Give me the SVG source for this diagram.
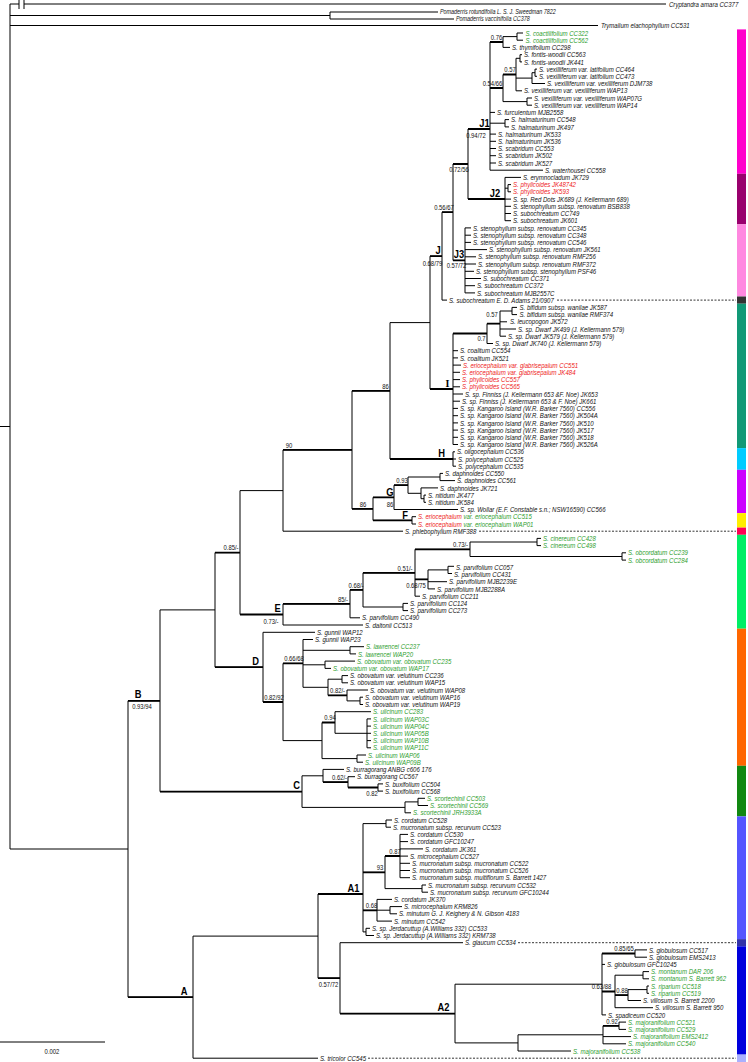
<svg xmlns="http://www.w3.org/2000/svg" width="748" height="1062" viewBox="0 0 748 1062">
<style>
.bg{fill:#fff}
.br{fill:none;stroke:#000;stroke-width:1}
.k{fill:none;stroke:#000;stroke-width:1.8}
.d{fill:none;stroke:#000;stroke-width:0.8;stroke-dasharray:2 1.5}
.t{font-family:"Liberation Sans",Arial,sans-serif;font-style:italic;font-size:7.4px;fill:#111}
.o{font-size:6.6px}
.g{fill:#2e9e2e}
.r{fill:#ee2020}
.s{font-family:"Liberation Sans",Arial,sans-serif;font-size:7.2px;fill:#111;text-anchor:middle}
.c{font-family:"Liberation Sans",Arial,sans-serif;font-size:11px;font-weight:bold;fill:#000;text-anchor:middle}
.cs{font-family:"Liberation Serif","Times New Roman",serif}
</style>
<rect class="bg" x="0" y="0" width="748" height="1062"/>
<g id="connectors">
<path class="br" d="M10 4V849 M0 426.5H10 M10 4H19 M24 4H666 M19 0V9 M24 0V9 M10 15.5H330 M330 12V19 M330 12H438 M330 19H454 M10 25.5H598 M10 849H128
M128 700.8V997.2 M128 700.8H160 M128 997.2H193
M160 609.9V791.6 M160 609.9H215 M160 791.6H302
M215 552.6V667.2 M215 552.6H240 M215 667.2H263
M240 490.6V614.5 M240 490.6H283 M240 614.5H283
M283 449.9V531.2 M283 449.9H352 M283 531.2H403
M352 390.8V508.9 M352 390.8H390 M352 508.9H373
M390 322.6V459 M390 322.6H430 M390 459H453
M430 256.2V389 M430 256.2H442 M430 389H453
M442 212.2V300.1 M442 212.2H453 M442 300.1H447
M453 164V260.4 M453 164H468 M453 260.4H465
M468 129V199 M468 129H490 M468 199H505
M490 42V170.2 M490 42H503 M490 88H503 M490 112.4H495 M490 123.2H505 M490 134.1H496 M490 141.3H496 M490 148.5H496 M490 155.7H496 M490 163H496 M490 170.2H543
M503 36.6V47.4 M503 36.6H517 M503 47.4H510
M517 33V40.2 M517 33H523 M517 40.2H523
M503 74.5V101.6 M503 74.5H516 M503 101.6H527
M516 58.3V90.8 M516 58.3H520 M516 78.1H532 M516 90.8H522
M520 54.7V61.9 M520 54.7H522 M520 61.9H522
M532 72.7V83.5 M532 72.7H535 M532 83.5H545
M535 69.1V76.3 M535 69.1H537 M535 76.3H537
M527 98V105.2 M527 98H532 M527 105.2H532
M505 119.6V126.9 M505 119.6H509 M505 126.9H509
M505 177.4V220.7 M505 177.4H521 M505 188.2H508 M505 199.1H511 M505 206.3H511 M505 213.5H511 M505 220.7H511
M508 184.6V191.8 M508 184.6H511 M508 191.8H511
M465 227.9V292.9 M465 227.9H471 M465 235.2H471 M465 242.4H471 M465 249.6H487 M465 256.8H476 M465 264H476 M465 271.3H474 M465 278.5H481 M465 285.7H475 M465 292.9H475
M453 333.5V444.5 M453 333.5H487 M453 350.7H458 M453 357.9H458 M453 365.1H461 M453 372.3H460 M453 379.6H460 M453 386.8H460 M453 394H463 M453 401.2H460 M453 408.4H458 M453 415.7H458 M453 422.9H458 M453 430.1H458 M453 437.3H458 M453 444.5H458
M487 323.6V343.5 M487 323.6H500 M487 343.5H493
M500 311V336.2 M500 311H512 M500 321.8H507 M500 329H516 M500 336.2H506
M512 307.4V314.6 M512 307.4H517 M512 314.6H517
M453 451.8V466.2 M453 451.8H455 M453 459H456 M453 466.2H456
M373 497.4V520.4 M373 497.4H394 M373 520.4H412
M394 485.2V509.5 M394 485.2H408 M394 509.5H458
M408 477V493.3 M408 477H440 M408 493.3H421
M440 473.4V480.6 M440 473.4H443 M440 480.6H455
M421 487.9V498.7 M421 487.9H438 M421 498.7H424
M424 495.1V502.3 M424 495.1H426 M424 502.3H426
M412 516.7V524 M412 516.7H416 M412 524H416
M283 603.9V625 M283 603.9H350 M283 625H363
M350 589.9V617.8 M350 589.9H363 M350 617.8H360
M363 572.8V607 M363 572.8H415 M363 607H403
M415 549.3V596.2 M415 549.3H470 M415 579.4H428 M415 596.2H420
M470 542V556.5 M470 542H537 M470 556.5H622
M537 538.4V545.6 M537 538.4H541 M537 545.6H541
M622 552.8V560.1 M622 552.8H626 M622 560.1H626
M428 569.9V588.9 M428 569.9H448 M428 581.7H447 M428 588.9H435
M448 566.3V573.5 M448 566.3H454 M448 573.5H452
M403 603.4V610.6 M403 603.4H408 M403 610.6H408
M263 632.3V702 M263 632.3H315 M263 702H283
M283 663.4V740.6 M283 663.4H303 M283 740.6H322
M303 639.5V687.3 M303 639.5H313 M303 650.3H350 M303 664.8H325 M303 687.3H328
M350 646.7V653.9 M350 646.7H364 M350 653.9H356
M325 661.1V668.4 M325 661.1H355 M325 668.4H331
M328 679.2V695.4 M328 679.2H342 M328 695.4H347
M342 675.6V682.8 M342 675.6H348 M342 682.8H348
M347 690V700.9 M347 690H368 M347 700.9H360
M360 697.2V704.5 M360 697.2H363 M360 704.5H363
M322 722.5V758.6 M322 722.5H335 M322 758.6H357
M335 711.7V733.3 M335 711.7H371 M335 733.3H367
M367 718.9V747.8 M367 718.9H371 M367 726.1H371 M367 733.3H371 M367 740.6H371 M367 747.8H371
M357 755V762.2 M357 755H366 M357 762.2H363
M302 775.8V807.4 M302 775.8H323 M302 807.4H405
M323 769.4V782.1 M323 769.4H344 M323 782.1H348
M348 776.7V787.5 M348 776.7H355 M348 787.5H378
M378 783.9V791.1 M378 783.9H383 M378 791.1H383
M405 801.9V812.8 M405 801.9H418 M405 812.8H411
M418 798.3V805.5 M418 798.3H425 M418 805.5H428
M193 936.1V1058.2 M193 936.1H318 M193 1058.2H318
M318 894V978.2 M318 894H363 M318 978.2H340
M363 823.6V931.9 M363 823.6H386 M363 872.3H385 M363 910.3H377 M363 931.9H366
M386 820V827.2 M386 820H392 M386 827.2H391
M385 856V888.6 M385 856H400 M385 888.6H422
M400 834.4V877.7 M400 834.4H408 M400 841.6H408 M400 848.9H423 M400 856.1H408 M400 863.3H410 M400 870.5H410 M400 877.7H410
M422 885V892.2 M422 885H426 M422 892.2H428
M377 899.4V921.1 M377 899.4H392 M377 910.2H390 M377 921.1H392
M390 906.6V913.8 M390 906.6H402 M390 913.8H397
M366 928.3V935.5 M366 928.3H370 M366 935.5H374
M340 942.7V1013.6 M340 942.7H463 M340 1013.6H455
M455 984.2V1042.9 M455 984.2H602 M455 1042.9H518
M602 953.5V1014.9 M602 953.5H635 M602 964.4H605 M602 991.5H615 M602 1014.9H606
M635 949.9V957.2 M635 949.9H647 M635 957.2H647
M615 975.2V1007.7 M615 975.2H643 M615 995.1H628 M615 1007.7H653
M643 971.6V978.8 M643 971.6H649 M643 978.8H649
M628 989.6V1000.5 M628 989.6H647 M628 1000.5H641
M647 986V993.3 M647 986H649 M647 993.3H649
M518 1034.8V1051 M518 1034.8H603 M518 1051H571
M603 1025.8V1043.8 M603 1025.8H619 M603 1036.6H631 M603 1043.8H626
M619 1022.1V1029.4 M619 1022.1H626 M619 1029.4H626"/>
<path class="k" d="M468 129H490 M490 42H503 M490 88H503 M503 74.5H516 M453 164H468 M442 212.2H453 M430 256.2H442 M468 199H505 M453 260.4H465 M430 389H453 M453 333.5H487 M487 323.6H500 M390 459H453 M352 390.8H390 M283 449.9H352 M352 508.9H373 M373 497.4H394 M394 485.2H408 M373 520.4H412 M215 552.6H240 M240 614.5H283 M283 603.9H350 M350 589.9H363 M363 572.8H415 M415 549.3H470 M415 579.4H428 M215 667.2H263 M263 702H283 M283 663.4H303 M328 695.4H347 M322 722.5H335 M160 791.6H302 M323 782.1H348 M348 787.5H378 M128 700.8H160 M128 997.2H193 M318 894H363 M363 872.3H385 M385 856H400 M363 910.3H377 M318 978.2H340 M340 1013.6H455 M602 991.5H615 M615 995.1H628 M602 953.5H635 M603 1025.8H619"/>
<path class="d" d="M557 300.1H736 M479 531.2H736 M518 942.7H736 M368 1058.2H736"/>
</g>
<g id="outgroups">
<text class="t" transform="translate(669 6.6) scale(.82 1)">Cryptandra amara CC377</text>
<text class="t o" transform="translate(440 14.3) scale(.82 1)">Pomaderris rotundifolia L. S. J. Sweedman 7822</text>
<text class="t o" transform="translate(456 21.3) scale(.82 1)">Pomaderris vaccinifolia CC378</text>
<text class="t" transform="translate(601 28) scale(.82 1)">Trymalium elachophyllum CC531</text>
</g>
<g id="clade-J1">
<text class="t g" transform="translate(525.5 35.6) scale(.82 1)">S. coactilifolium CC322</text>
<text class="t g" transform="translate(525.5 42.8) scale(.82 1)">S. coactilifolium CC562</text>
<text class="t" transform="translate(512 50) scale(.82 1)">S. thymifolium CC298</text>
<text class="t" transform="translate(524 57.3) scale(.82 1)">S. fontis-woodii CC563</text>
<text class="t" transform="translate(524 64.5) scale(.82 1)">S. fontis-woodii JK441</text>
<text class="t" transform="translate(539 71.7) scale(.82 1)">S. vexilliferum var. latifolium CC464</text>
<text class="t" transform="translate(539 78.9) scale(.82 1)">S. vexilliferum var. latifolium CC473</text>
<text class="t" transform="translate(547 86.1) scale(.82 1)">S. vexilliferum var. vexilliferum DJM738</text>
<text class="t" transform="translate(524 93.4) scale(.82 1)">S. vexilliferum var. vexilliferum WAP13</text>
<text class="t" transform="translate(534 100.6) scale(.82 1)">S. vexilliferum var. vexilliferum WAP07G</text>
<text class="t" transform="translate(534 107.8) scale(.82 1)">S. vexilliferum var. vexilliferum WAP14</text>
<text class="t" transform="translate(497 115) scale(.82 1)">S. furculentum MJB2558</text>
<text class="t" transform="translate(511 122.2) scale(.82 1)">S. halmaturinum CC548</text>
<text class="t" transform="translate(511 129.5) scale(.82 1)">S. halmaturinum JK497</text>
<text class="t" transform="translate(498 136.7) scale(.82 1)">S. halmaturinum JK533</text>
<text class="t" transform="translate(498 143.9) scale(.82 1)">S. halmaturinum JK536</text>
<text class="t" transform="translate(498 151.1) scale(.82 1)">S. scabridum CC553</text>
<text class="t" transform="translate(498 158.3) scale(.82 1)">S. scabridum JK502</text>
<text class="t" transform="translate(498 165.6) scale(.82 1)">S. scabridum JK527</text>
<text class="t" transform="translate(545 172.8) scale(.82 1)">S. waterhousei CC558</text>
</g>
<g id="clade-J2">
<text class="t" transform="translate(523 180) scale(.82 1)">S. erymnocladum JK729</text>
<text class="t r" transform="translate(513 187.2) scale(.82 1)">S. phylicoides JK48742</text>
<text class="t r" transform="translate(513 194.4) scale(.82 1)">S. phylicoides JK593</text>
<text class="t" transform="translate(513 201.7) scale(.82 1)">S. sp. Red Dots JK689 (J. Kellermann 689)</text>
<text class="t" transform="translate(513 208.9) scale(.82 1)">S. stenophyllum subsp. renovatum BSB838</text>
<text class="t" transform="translate(513 216.1) scale(.82 1)">S. subochreatum CC749</text>
<text class="t" transform="translate(513 223.3) scale(.82 1)">S. subochreatum JK601</text>
</g>
<g id="clade-J3">
<text class="t" transform="translate(473 230.5) scale(.82 1)">S. stenophyllum subsp. renovatum CC345</text>
<text class="t" transform="translate(473 237.8) scale(.82 1)">S. stenophyllum subsp. renovatum CC348</text>
<text class="t" transform="translate(473 245) scale(.82 1)">S. stenophyllum subsp. renovatum CC546</text>
<text class="t" transform="translate(489 252.2) scale(.82 1)">S. stenophyllum subsp. renovatum JK561</text>
<text class="t" transform="translate(478 259.4) scale(.82 1)">S. stenophyllum subsp. renovatum RMF256</text>
<text class="t" transform="translate(478 266.6) scale(.82 1)">S. stenophyllum subsp. renovatum RMF372</text>
<text class="t" transform="translate(476 273.9) scale(.82 1)">S. stenophyllum subsp. stenophyllum PSF46</text>
<text class="t" transform="translate(483 281.1) scale(.82 1)">S. subochreatum CC371</text>
<text class="t" transform="translate(477 288.3) scale(.82 1)">S. subochreatum CC372</text>
<text class="t" transform="translate(477 295.5) scale(.82 1)">S. subochreatum MJB2557C</text>
<text class="t" transform="translate(449 302.7) scale(.82 1)">S. subochreatum E. D. Adams 21/0907</text>
</g>
<g id="clade-I">
<text class="t" transform="translate(519.5 310) scale(.82 1)">S. bifidum subsp. wanilae JK587</text>
<text class="t" transform="translate(519.5 317.2) scale(.82 1)">S. bifidum subsp. wanilae RMF374</text>
<text class="t" transform="translate(510 324.4) scale(.82 1)">S. leucopogon JK572</text>
<text class="t" transform="translate(518 331.6) scale(.82 1)">S. sp. Dwarf JK499 (J. Kellermann 579)</text>
<text class="t" transform="translate(508 338.8) scale(.82 1)">S. sp. Dwarf JK579 (J. Kellermann 579)</text>
<text class="t" transform="translate(495 346.1) scale(.82 1)">S. sp. Dwarf JK740 (J. Kellermann 579)</text>
<text class="t" transform="translate(460 353.3) scale(.82 1)">S. coalitum CC554</text>
<text class="t" transform="translate(460 360.5) scale(.82 1)">S. coalitum JK521</text>
<text class="t r" transform="translate(463 367.7) scale(.82 1)">S. eriocephalum var. glabrisepalum CC551</text>
<text class="t r" transform="translate(462 374.9) scale(.82 1)">S. eriocephalum var. glabrisepalum JK484</text>
<text class="t r" transform="translate(462 382.2) scale(.82 1)">S. phylicoides CC557</text>
<text class="t r" transform="translate(462 389.4) scale(.82 1)">S. phylicoides CC565</text>
<text class="t" transform="translate(465 396.6) scale(.82 1)">S. sp. Finniss (J. Kellermann 653 &amp;F. Noe) JK653</text>
<text class="t" transform="translate(462 403.8) scale(.82 1)">S. sp. Finniss (J. Kellermann 653 &amp; F. Noe) JK661</text>
<text class="t" transform="translate(460 411) scale(.82 1)">S. sp. Kangaroo Island (W.R. Barker 7560) CC556</text>
<text class="t" transform="translate(460 418.3) scale(.82 1)">S. sp. Kangaroo Island (W.R. Barker 7560) JK504A</text>
<text class="t" transform="translate(460 425.5) scale(.82 1)">S. sp. Kangaroo Island (W.R. Barker 7560) JK510</text>
<text class="t" transform="translate(460 432.7) scale(.82 1)">S. sp. Kangaroo Island (W.R. Barker 7560) JK517</text>
<text class="t" transform="translate(460 439.9) scale(.82 1)">S. sp. Kangaroo Island (W.R. Barker 7560) JK518</text>
<text class="t" transform="translate(460 447.1) scale(.82 1)">S. sp. Kangaroo Island (W.R. Barker 7560) JK526A</text>
</g>
<g id="clade-H">
<text class="t" transform="translate(457 454.4) scale(.82 1)">S. oligocephalum CC536</text>
<text class="t" transform="translate(458 461.6) scale(.82 1)">S. polycephalum CC525</text>
<text class="t" transform="translate(458 468.8) scale(.82 1)">S. polycephalum CC535</text>
</g>
<g id="clade-G">
<text class="t" transform="translate(445 476) scale(.82 1)">S. daphnoides CC550</text>
<text class="t" transform="translate(457 483.2) scale(.82 1)">S. daphnoides CC561</text>
<text class="t" transform="translate(440 490.5) scale(.82 1)">S. daphnoides JK721</text>
<text class="t" transform="translate(428 497.7) scale(.82 1)">S. nitidum JK477</text>
<text class="t" transform="translate(428 504.9) scale(.82 1)">S. nitidum JK584</text>
<text class="t" transform="translate(460 512.1) scale(.82 1)">S. sp. Wollar (E.F. Constable s.n.; NSW16590) CC566</text>
</g>
<g id="clade-F">
<text class="t" transform="translate(418 519.3) scale(.82 1)"><tspan class="r">S. eriocephalum</tspan><tspan class="g"> var. eriocephalum CC515</tspan></text>
<text class="t" transform="translate(418 526.6) scale(.82 1)"><tspan class="r">S. eriocephalum</tspan><tspan class="g"> var. eriocephalum WAP01</tspan></text>
<text class="t" transform="translate(405 533.8) scale(.82 1)">S. phlebophyllum RMF388</text>
</g>
<g id="clade-E">
<text class="t g" transform="translate(543 541) scale(.82 1)">S. cinereum CC428</text>
<text class="t g" transform="translate(543 548.2) scale(.82 1)">S. cinereum CC498</text>
<text class="t g" transform="translate(628 555.4) scale(.82 1)">S. obcordatum CC239</text>
<text class="t g" transform="translate(628 562.7) scale(.82 1)">S. obcordatum CC284</text>
<text class="t" transform="translate(456 569.9) scale(.82 1)">S. parvifolium CC057</text>
<text class="t" transform="translate(454 577.1) scale(.82 1)">S. parvifolium CC431</text>
<text class="t" transform="translate(449 584.3) scale(.82 1)">S. parvifolium MJB2239E</text>
<text class="t" transform="translate(437 591.5) scale(.82 1)">S. parvifolium MJB2288A</text>
<text class="t" transform="translate(422 598.8) scale(.82 1)">S. parvifolium CC211</text>
<text class="t" transform="translate(410 606) scale(.82 1)">S. parvifolium CC124</text>
<text class="t" transform="translate(410 613.2) scale(.82 1)">S. parvifolium CC273</text>
<text class="t" transform="translate(362 620.4) scale(.82 1)">S. parvifolium CC490</text>
<text class="t" transform="translate(365 627.6) scale(.82 1)">S. daltonii CC513</text>
</g>
<g id="clade-D">
<text class="t" transform="translate(317 634.9) scale(.82 1)">S. gunnii WAP12</text>
<text class="t" transform="translate(315 642.1) scale(.82 1)">S. gunnii WAP23</text>
<text class="t g" transform="translate(366 649.3) scale(.82 1)">S. lawrencei CC237</text>
<text class="t g" transform="translate(358 656.5) scale(.82 1)">S. lawrencei WAP20</text>
<text class="t g" transform="translate(357 663.7) scale(.82 1)">S. obovatum var. obovatum CC235</text>
<text class="t g" transform="translate(333 671) scale(.82 1)">S. obovatum var. obovatum WAP17</text>
<text class="t" transform="translate(350 678.2) scale(.82 1)">S. obovatum var. velutinum CC236</text>
<text class="t" transform="translate(350 685.4) scale(.82 1)">S. obovatum var. velutinum WAP15</text>
<text class="t" transform="translate(370 692.6) scale(.82 1)">S. obovatum var. velutinum WAP08</text>
<text class="t" transform="translate(365 699.8) scale(.82 1)">S. obovatum var. velutinum WAP16</text>
<text class="t" transform="translate(365 707.1) scale(.82 1)">S. obovatum var. velutinum WAP19</text>
<text class="t g" transform="translate(373 714.3) scale(.82 1)">S. ulicinum CC283</text>
<text class="t g" transform="translate(373 721.5) scale(.82 1)">S. ulicinum WAP03C</text>
<text class="t g" transform="translate(373 728.7) scale(.82 1)">S. ulicinum WAP04C</text>
<text class="t g" transform="translate(373 735.9) scale(.82 1)">S. ulicinum WAP05B</text>
<text class="t g" transform="translate(373 743.2) scale(.82 1)">S. ulicinum WAP10B</text>
<text class="t g" transform="translate(373 750.4) scale(.82 1)">S. ulicinum WAP11C</text>
<text class="t g" transform="translate(368 757.6) scale(.82 1)">S. ulicinum WAP06</text>
<text class="t g" transform="translate(365 764.8) scale(.82 1)">S. ulicinum WAP09B</text>
</g>
<g id="clade-C">
<text class="t" transform="translate(346 772) scale(.82 1)">S. burragorang ANBG c606 176</text>
<text class="t" transform="translate(357 779.3) scale(.82 1)">S. burragorang CC567</text>
<text class="t" transform="translate(385 786.5) scale(.82 1)">S. buxifolium CC504</text>
<text class="t" transform="translate(385 793.7) scale(.82 1)">S. buxifolium CC568</text>
<text class="t g" transform="translate(427 800.9) scale(.82 1)">S. scortechinii CC503</text>
<text class="t g" transform="translate(430 808.1) scale(.82 1)">S. scortechinii CC569</text>
<text class="t g" transform="translate(413 815.4) scale(.82 1)">S. scortechinii JRH3933A</text>
</g>
<g id="clade-A1">
<text class="t" transform="translate(394 822.6) scale(.82 1)">S. cordatum CC528</text>
<text class="t" transform="translate(393 829.8) scale(.82 1)">S. mucronatum subsp. recurvum CC523</text>
<text class="t" transform="translate(410 837) scale(.82 1)">S. cordatum CC530</text>
<text class="t" transform="translate(410 844.2) scale(.82 1)">S. cordatum GFC10247</text>
<text class="t" transform="translate(425 851.5) scale(.82 1)">S. cordatum JK361</text>
<text class="t" transform="translate(410 858.7) scale(.82 1)">S. microcephalum CC527</text>
<text class="t" transform="translate(412 865.9) scale(.82 1)">S. mucronatum subsp. mucronatum CC522</text>
<text class="t" transform="translate(412 873.1) scale(.82 1)">S. mucronatum subsp. mucronatum CC526</text>
<text class="t" transform="translate(412 880.3) scale(.82 1)">S. mucronatum subsp. multiflorum S. Barrett 1427</text>
<text class="t" transform="translate(428 887.6) scale(.82 1)">S. mucronatum subsp. recurvum CC532</text>
<text class="t" transform="translate(430 894.8) scale(.82 1)">S. mucronatum subsp. recurvum GFC10244</text>
<text class="t" transform="translate(394 902) scale(.82 1)">S. cordatum JK370</text>
<text class="t" transform="translate(404 909.2) scale(.82 1)">S. microcephalum KRM826</text>
<text class="t" transform="translate(399 916.4) scale(.82 1)">S. minutum G. J. Keighery &amp; N. Gibson 4183</text>
<text class="t" transform="translate(394 923.7) scale(.82 1)">S. minutum CC542</text>
<text class="t" transform="translate(372 930.9) scale(.82 1)">S. sp. Jerdacuttup (A.Williams 332) CC533</text>
<text class="t" transform="translate(376 938.1) scale(.82 1)">S. sp. Jerdacuttup (A.Williams 332) KRM738</text>
<text class="t" transform="translate(465 945.3) scale(.82 1)">S. glaucum CC534</text>
</g>
<g id="clade-A2">
<text class="t" transform="translate(649 952.5) scale(.82 1)">S. globulosum CC517</text>
<text class="t" transform="translate(649 959.8) scale(.82 1)">S. globulosum EMS2413</text>
<text class="t" transform="translate(607 967) scale(.82 1)">S. globulosum GFC10245</text>
<text class="t g" transform="translate(651 974.2) scale(.82 1)">S. montanum DAR 206</text>
<text class="t g" transform="translate(651 981.4) scale(.82 1)">S. montanum S. Barrett 962</text>
<text class="t g" transform="translate(651 988.6) scale(.82 1)">S. riparium CC518</text>
<text class="t g" transform="translate(651 995.9) scale(.82 1)">S. riparium CC519</text>
<text class="t" transform="translate(643 1003.1) scale(.82 1)">S. villosum S. Barrett 2200</text>
<text class="t" transform="translate(655 1010.3) scale(.82 1)">S. villosum S. Barrett 950</text>
<text class="t" transform="translate(608 1017.5) scale(.82 1)">S. spadiceum CC520</text>
<text class="t g" transform="translate(628 1024.7) scale(.82 1)">S. majoranifolium CC521</text>
<text class="t g" transform="translate(628 1032) scale(.82 1)">S. majoranifolium CC529</text>
<text class="t g" transform="translate(633 1039.2) scale(.82 1)">S. majoranifolium EMS2412</text>
<text class="t g" transform="translate(628 1046.4) scale(.82 1)">S. majoranifolium CC540</text>
<text class="t g" transform="translate(573 1053.6) scale(.82 1)">S. majoranifolium CC538</text>
<text class="t" transform="translate(320 1060.8) scale(.82 1)">S. tricolor CC545</text>
</g>
<g id="clade-labels">
<text class="c" transform="translate(484.5 127) scale(.85 1)">J1</text>
<text class="c" transform="translate(495 197) scale(.85 1)">J2</text>
<text class="c" transform="translate(459 258) scale(.85 1)">J3</text>
<text class="c" transform="translate(438 254) scale(.85 1)">J</text>
<text class="c cs" transform="translate(447.5 387) scale(.9 1)">I</text>
<text class="c" transform="translate(441.5 457) scale(.85 1)">H</text>
<text class="c" transform="translate(390 496) scale(.85 1)">G</text>
<text class="c" transform="translate(405 519) scale(.85 1)">F</text>
<text class="c" transform="translate(277.5 612) scale(.85 1)">E</text>
<text class="c" transform="translate(255.5 665) scale(.85 1)">D</text>
<text class="c" transform="translate(296.5 789) scale(.85 1)">C</text>
<text class="c" transform="translate(138 698) scale(.85 1)">B</text>
<text class="c" transform="translate(353.5 892) scale(.85 1)">A1</text>
<text class="c" transform="translate(443.5 1011) scale(.85 1)">A2</text>
<text class="c" transform="translate(184 995) scale(.85 1)">A</text>
</g>
<g id="support">
<text class="s" transform="translate(496.5 40) scale(.82 1)">0.76</text>
<text class="s" transform="translate(492.5 86) scale(.82 1)">0.54/66</text>
<text class="s" transform="translate(510 72) scale(.82 1)">0.57</text>
<text class="s" transform="translate(476 138) scale(.82 1)">0.94/72</text>
<text class="s" transform="translate(459 172) scale(.82 1)">0.72/56</text>
<text class="s" transform="translate(444 210) scale(.82 1)">0.56/67</text>
<text class="s" transform="translate(432.5 266) scale(.82 1)">0.68/79</text>
<text class="s" transform="translate(456.5 268) scale(.82 1)">0.57/72</text>
<text class="s" transform="translate(492 317) scale(.82 1)">0.57</text>
<text class="s" transform="translate(481.5 341) scale(.82 1)">0.7</text>
<text class="s" transform="translate(385.5 389) scale(.82 1)">86</text>
<text class="s" transform="translate(289 448) scale(.82 1)">90</text>
<text class="s" transform="translate(231 550) scale(.82 1)">0.85/-</text>
<text class="s" transform="translate(363 507) scale(.82 1)">86</text>
<text class="s" transform="translate(390 507) scale(.82 1)">86</text>
<text class="s" transform="translate(402 483) scale(.82 1)">0.93</text>
<text class="s" transform="translate(271 624) scale(.82 1)">0.73/-</text>
<text class="s" transform="translate(343 602) scale(.82 1)">85/-</text>
<text class="s" transform="translate(356 588) scale(.82 1)">0.68/-</text>
<text class="s" transform="translate(405 571) scale(.82 1)">0.51/-</text>
<text class="s" transform="translate(460.5 547) scale(.82 1)">0.73/-</text>
<text class="s" transform="translate(416 588) scale(.82 1)">0.68/75</text>
<text class="s" transform="translate(294 661) scale(.82 1)">0.66/68</text>
<text class="s" transform="translate(274 700) scale(.82 1)">0.82/92</text>
<text class="s" transform="translate(337.5 693) scale(.82 1)">0.82/-</text>
<text class="s" transform="translate(330 720) scale(.82 1)">0.94</text>
<text class="s" transform="translate(339.5 780) scale(.82 1)">0.62/-</text>
<text class="s" transform="translate(372 796) scale(.82 1)">0.82</text>
<text class="s" transform="translate(380 870) scale(.82 1)">93</text>
<text class="s" transform="translate(395 854) scale(.82 1)">0.87</text>
<text class="s" transform="translate(371.5 908) scale(.82 1)">0.68</text>
<text class="s" transform="translate(328.5 987) scale(.82 1)">0.57/72</text>
<text class="s" transform="translate(624 951) scale(.82 1)">0.85/65</text>
<text class="s" transform="translate(601.5 989) scale(.82 1)">0.63/88</text>
<text class="s" transform="translate(622 993) scale(.82 1)">0.88</text>
<text class="s" transform="translate(612 1024) scale(.82 1)">0.92</text>
<text class="s" transform="translate(142 709) scale(.82 1)">0.93/94</text>
</g>
<g id="clade-bar">
<rect x="737" y="29.4" width="9" height="144.4" fill="#ff00cc"/>
<rect x="737" y="173.8" width="9" height="50.5" fill="#99006e"/>
<rect x="737" y="224.3" width="9" height="72.2" fill="#ff88e0"/>
<rect x="737" y="296.5" width="9" height="7.2" fill="#333333"/>
<rect x="737" y="303.7" width="9" height="144.4" fill="#119977"/>
<rect x="737" y="448.1" width="9" height="21.7" fill="#00ccff"/>
<rect x="737" y="469.8" width="9" height="43.3" fill="#cc00ff"/>
<rect x="737" y="513.1" width="9" height="14.5" fill="#ffee00"/>
<rect x="737" y="527.6" width="9" height="7.2" fill="#ff0055"/>
<rect x="737" y="534.8" width="9" height="93.9" fill="#00ee66"/>
<rect x="737" y="628.7" width="9" height="137.1" fill="#ff6600"/>
<rect x="737" y="765.8" width="9" height="50.6" fill="#118811"/>
<rect x="737" y="816.4" width="9" height="122.7" fill="#5555ff"/>
<rect x="737" y="939.1" width="9" height="7.2" fill="#3333aa"/>
<rect x="737" y="946.3" width="9" height="108.3" fill="#0000dd"/>
<rect x="737" y="1054.6" width="9" height="7.4" fill="#aab0ff"/>
</g>
<g id="scale-bar">
<path class="br" d="M0 1042H105"/>
<text class="s" transform="translate(52 1054) scale(.82 1)">0.002</text>
</g>
</svg>
